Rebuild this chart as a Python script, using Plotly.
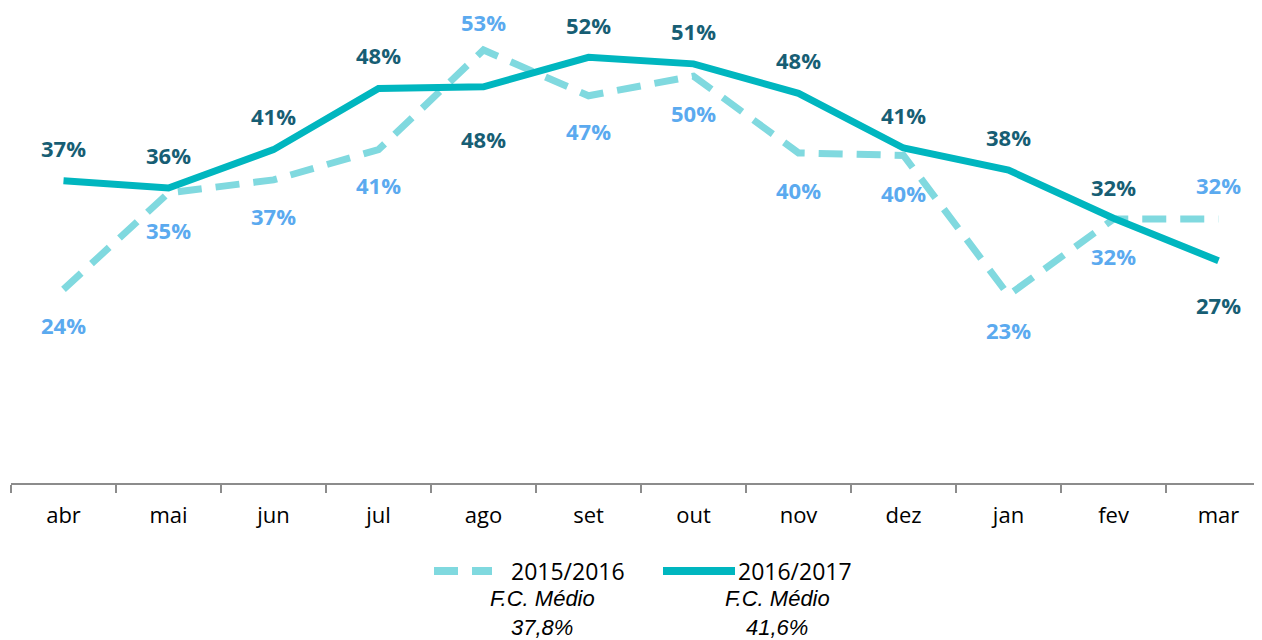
import plotly.graph_objects as go

months = ["abr", "mai", "jun", "jul", "ago", "set", "out", "nov", "dez", "jan", "fev", "mar"]
fc_2015_2016 = [23.7, 35.5, 37.1, 40.8, 53.0, 47.4, 49.8, 40.4, 40.1, 23.0, 32.3, 32.3]
fc_2016_2017 = [37.0, 36.1, 40.8, 48.3, 48.5, 52.1, 51.3, 47.7, 41.0, 38.3, 32.4, 27.2]
labels_2015_2016 = ["24%", "35%", "37%", "41%", "53%", "47%", "50%", "40%", "40%", "23%", "32%", "32%"]
labels_2016_2017 = ["37%", "36%", "41%", "48%", "48%", "52%", "51%", "48%", "41%", "38%", "32%", "27%"]
series_names = ["2015/2016", "2016/2017"]
avg_labels = ["37,8%", "41,6%"]

# label vertical offsets (px), style only
off_2015 = [-36, -37, -36, -35, 28, -35, -37, -37, -38, -35, -37, 34]
off_2016 = [33, 33, 34, 33, -52, 32, 33, 33, 33, 33, 31, -44]

C_DASH = "#80D9DF"
C_SOLID = "#00B6BF"
C_LIGHT_LBL = "#5BAAEF"
C_DARK_LBL = "#175E74"

fig = go.Figure()
fig.add_trace(go.Scatter(x=months, y=fc_2015_2016, mode="lines", name=series_names[0],
                         line=dict(color=C_DASH, width=7, dash="24px,14px")))
fig.add_trace(go.Scatter(x=months, y=fc_2016_2017, mode="lines", name=series_names[1],
                         line=dict(color=C_SOLID, width=7)))

ann = []
for m, v, t, o in zip(months, fc_2015_2016, labels_2015_2016, off_2015):
    ann.append(dict(x=m, y=v, text=t, showarrow=False, yshift=o,
                    font=dict(family="Open Sans", size=22, color=C_LIGHT_LBL, weight="bold")))
for m, v, t, o in zip(months, fc_2016_2017, labels_2016_2017, off_2016):
    ann.append(dict(x=m, y=v, text=t, showarrow=False, yshift=o,
                    font=dict(family="Open Sans", size=22, color=C_DARK_LBL, weight="bold")))

# page body has an 8px margin; figure origin is at page (8, 8)
OFF = 8
W, H = 1262 - OFF, 640 - OFF
L = 11 - OFF
AXIS_Y = 483 - OFF
B = H - AXIS_Y
PW, PH = W - L, AXIS_Y

def px(x):
    return (x - OFF - L) / PW

def py(y):
    return (PH - (y - OFF)) / PH

# custom legend
shapes = [
    dict(type="line", xref="paper", yref="paper", x0=px(434), x1=px(492), y0=py(571), y1=py(571),
         line=dict(color=C_DASH, width=8, dash="24px,14px")),
    dict(type="line", xref="paper", yref="paper", x0=px(663), x1=px(735), y0=py(571), y1=py(571),
         line=dict(color=C_SOLID, width=8)),
]
ann.append(dict(x=px(509), y=py(571), xref="paper", yref="paper", text=series_names[0], showarrow=False,
                xanchor="left", yanchor="middle", font=dict(family="Open Sans", size=23, color="#000")))
ann.append(dict(x=px(736), y=py(571), xref="paper", yref="paper", text=series_names[1], showarrow=False,
                xanchor="left", yanchor="middle", font=dict(family="Open Sans", size=23, color="#000")))
for cx, a in zip([542, 777], avg_labels):
    ann.append(dict(x=px(cx), y=py(598), xref="paper", yref="paper", text="<i>F.C. Médio</i>", showarrow=False,
                    xanchor="center", yanchor="middle", font=dict(family="Liberation Sans", size=22, color="#000")))
    ann.append(dict(x=px(cx), y=py(627), xref="paper", yref="paper", text="<i>" + a + "</i>", showarrow=False,
                    xanchor="center", yanchor="middle", font=dict(family="Liberation Sans", size=22, color="#000")))

fig.update_layout(
    width=W, height=H,
    margin=dict(l=L, r=0, t=0, b=B),
    plot_bgcolor="white", paper_bgcolor="white",
    showlegend=False,
    annotations=ann,
    shapes=shapes,
    xaxis=dict(type="category", range=[-0.5, -0.5 + PW / 105.0], showgrid=False, zeroline=False,
               showline=True, linecolor="#8C8C8C", linewidth=2,
               ticks="outside", tickson="boundaries", ticklen=8, tickcolor="#8C8C8C", tickwidth=2,
               tickfont=dict(family="Open Sans", size=22, color="#000"), ticklabelstandoff=12),
    yaxis=dict(range=[0, PH / 8.17], visible=False, showgrid=False, zeroline=False),
)

fig.write_html("out.html")
